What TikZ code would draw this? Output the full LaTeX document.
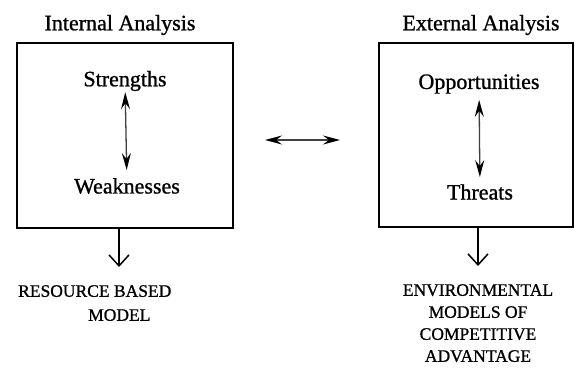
\documentclass[tikz,border=0pt]{standalone}
\usepackage{fontspec}
\setmainfont[RawFeature={embolden=1.0}]{Liberation Serif}
\usetikzlibrary{arrows.meta}
\begin{document}
\begin{tikzpicture}[x=1pt,y=-1pt,
  panel/.style={draw, line width=2pt, inner sep=0pt},
  heading/.style={font=\fontsize{22}{24}\selectfont, inner sep=0pt},
  factor/.style={font=\fontsize{22}{24}\selectfont, inner sep=0pt},
  outcome/.style={font=\fontsize{17.5}{24}\selectfont, inner sep=0pt},
  pair/.style={line width=1.3pt, draw=black!75, {Stealth[length=17pt,width=9pt,inset=6pt,black]}-{Stealth[length=17pt,width=9pt,inset=6pt,black]}},
  result/.style={line width=1.5pt, -{Straight Barb[length=11pt,width=20pt,line width=1.5pt]}}]
  \useasboundingbox (0,0) rectangle (576,368);

  % the two analysis panels
  \node[panel, minimum width=216pt, minimum height=185pt] (lbox) at (125,135.5) {};
  \node[panel, minimum width=194pt, minimum height=184pt] (rbox) at (476,135) {};

  % headings above the panels
  \node[heading] (lhead) at (120,25) {Internal Analysis};
  \node[heading] (rhead) at (481,25) {External Analysis};

  % contents of the panels
  \node[factor] (str) at (125,81) {Strengths};
  \node[factor] (weak) at (127,186) {Weaknesses};
  \node[factor] (opp) at (479,84) {Opportunities};
  \node[factor] (thr) at (480,192) {Threats};

  \draw[pair, shorten <=1pt, shorten >=8pt] (str) -- (weak);
  \draw[pair, shorten <=6pt, shorten >=7pt] (opp) -- (thr);

  % link between the panels
  \coordinate (ml) at (265,140);
  \coordinate (mr) at (340,140);
  \draw[pair] (ml) -- (mr);

  % outcomes below the panels
  \coordinate (la) at (119,267);
  \coordinate (ra) at (478,266);
  \draw[result] (la |- lbox.south) -- (la);
  \draw[result] (ra |- rbox.south) -- (ra);

  \node[outcome, align=left, anchor=north west] (lres) at (18,285) {RESOURCE BASED\\\hspace*{70pt}MODEL};
  \node[outcome, align=center, anchor=north, font=\fontsize{17.5}{22}\selectfont] (rres) at (478,284) {ENVIRONMENTAL\\MODELS OF\\COMPETITIVE\\ADVANTAGE};
\end{tikzpicture}
\end{document}
